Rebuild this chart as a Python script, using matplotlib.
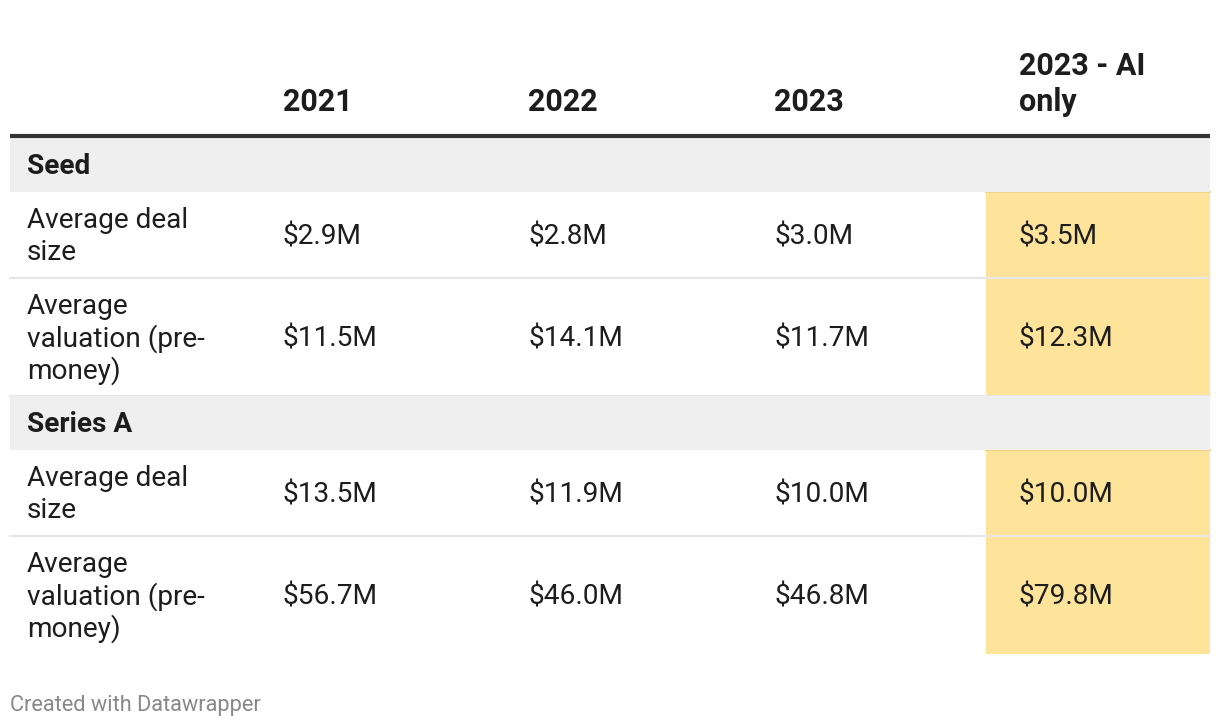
import matplotlib
matplotlib.use("Agg")
import matplotlib.pyplot as plt
from matplotlib.patches import Rectangle

plt.rcParams['font.family'] = ['Roboto', 'DejaVu Sans']

# ---- data ----
columns = ["2021", "2022", "2023", "2023 - AI\nonly"]
groups = ["Seed", "Series A"]
row_labels = ["Average deal\nsize", "Average\nvaluation (pre-\nmoney)"]
seed_values = [["$2.9M", "$2.8M", "$3.0M", "$3.5M"],
               ["$11.5M", "$14.1M", "$11.7M", "$12.3M"]]
series_a_values = [["$13.5M", "$11.9M", "$10.0M", "$10.0M"],
                   ["$56.7M", "$46.0M", "$46.8M", "$79.8M"]]
group_values = [seed_values, series_a_values]
footer = "Created with Datawrapper"

# ---- layout (pixels) ----
W, H = 1220, 728
left, right = 10, 1210
col_x = [283, 528, 774, 1019]
hl_x0 = 986
line_h = 32
fs = 20.2
dy = 2  # nudge for text baseline
text_c = "#1d1d1d"
hl_color = "#fee39b"

fig = plt.figure(figsize=(W / 100, H / 100), dpi=100)
ax = fig.add_axes([0, 0, 1, 1])
ax.set_xlim(0, W)
ax.set_ylim(H, 0)
ax.axis("off")


def multiline(x, yc, s, lh=line_h, **kw):
    lines = s.split("\n")
    y0 = yc - (len(lines) - 1) * lh / 2
    for i, ln in enumerate(lines):
        ax.text(x, y0 + i * lh + dy, ln, va="center", ha="left", **kw)


# header (bottom-aligned)
head_lh = 36
for x, c in zip(col_x, columns):
    n = len(c.split("\n"))
    yc = 100 - (n - 1) * head_lh / 2
    multiline(x, yc, c, lh=head_lh, fontsize=22, fontweight="bold", color=text_c)
ax.plot([left, right], [136, 136], color="#333333", lw=3, solid_capstyle="butt")

group_h = 54
row_hs = [86, 118]
y = 138
for gi, (g, vals) in enumerate(zip(groups, group_values)):
    ax.add_patch(Rectangle((left, y), right - left, group_h, color="#efefef", lw=0))
    ax.text(27, y + group_h / 2 + dy, g, fontsize=fs, fontweight="bold", color=text_c, va="center")
    y += group_h
    top = y
    for lab, rv, rh in zip(row_labels, vals, row_hs):
        yc = y + rh / 2
        multiline(27, yc, lab, fontsize=fs, color=text_c)
        for x, v in zip(col_x, rv):
            ax.text(x, yc + dy, v, fontsize=fs, color=text_c, va="center")
        y += rh
    ax.add_patch(Rectangle((hl_x0, top), right - hl_x0, y - top, color=hl_color, lw=0, zorder=0))
    ax.plot([hl_x0, right], [top, top], color="#f0d68a", lw=1.5, zorder=0.5)
    ax.plot([left, right], [top + row_hs[0], top + row_hs[0]], color="#e6e6e6", lw=1.5, zorder=0.4)
    if gi < len(groups) - 1:
        ax.plot([left, right], [y, y], color="#e6e6e6", lw=1.5, zorder=0.4)

ax.text(left, 705, footer, fontsize=15.7, color="#888888", va="center")

fig.savefig("out.png", dpi=100)
